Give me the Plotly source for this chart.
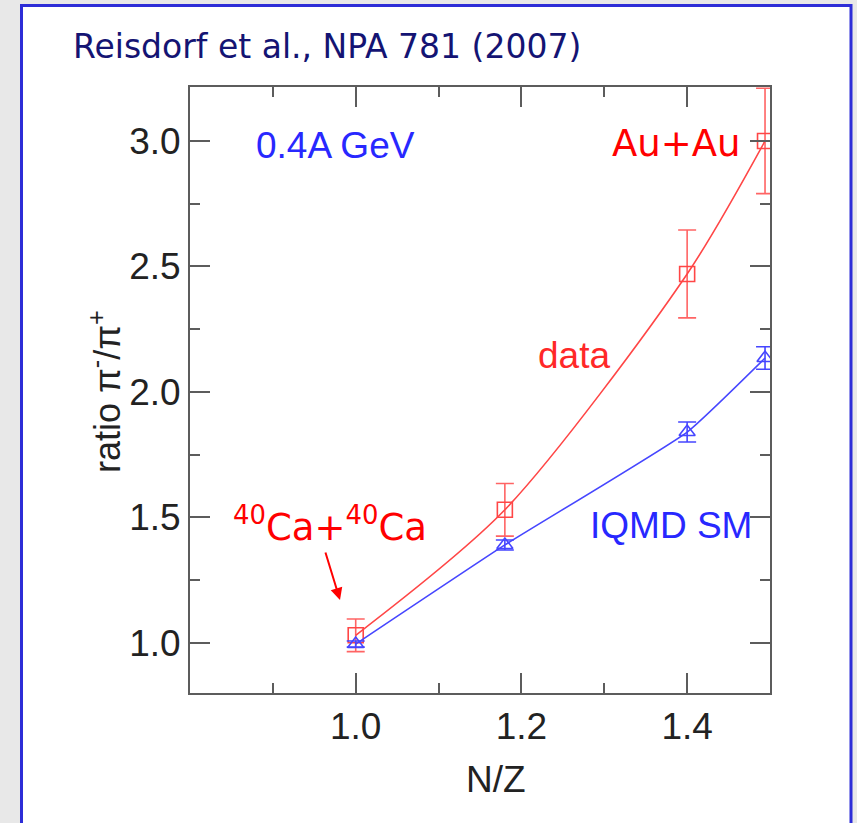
import plotly.graph_objects as go

# N/Z of the colliding systems: 40Ca+40Ca, 96Ru+96Ru, 96Zr+96Zr, Au+Au
nz = [1.0, 1.18, 1.40, 1.494]

# measured pi-/pi+ ratio (FOPI) with errors
ratio_data = [1.03, 1.53, 2.47, 3.00]
ratio_data_err = [0.065, 0.105, 0.175, 0.21]

# IQMD (soft EoS, momentum dependent) ratio with errors
ratio_iqmd = [0.995, 1.39, 1.84, 2.135]
ratio_iqmd_err = [0.012, 0.02, 0.04, 0.045]

x_ticks = [1.0, 1.2, 1.4]
x_tick_text = ["1.0", "1.2", "1.4"]
x_minor = [0.9, 1.1, 1.3, 1.5]
y_ticks = [1.0, 1.5, 2.0, 2.5, 3.0]
y_tick_text = ["1.0", "1.5", "2.0", "2.5", "3.0"]
y_minor = [1.25, 1.75, 2.25, 2.75]

RED = "rgb(255,70,70)"
BLUE = "rgb(70,70,255)"
AXIS = "#5c5c5c"
PLOT_FONT = "Liberation Sans, Arial, sans-serif"
SLIDE_FONT = "DejaVu Sans, Verdana, sans-serif"

# plot-area edges in pixels, used to place page-level decorations
L, R, T, B = 190, 770, 87, 693


def px(x):
    return (x - L) / (R - L)


def py(y):
    return (B - y) / (B - T)


fig = go.Figure()

fig.add_trace(go.Scatter(
    x=nz, y=ratio_data, mode="lines+markers", name="data",
    line=dict(color=RED, width=1.6, shape="spline", smoothing=0.8),
    marker=dict(symbol="square-open", size=15, color=RED, line=dict(width=1.6, color=RED)),
    error_y=dict(type="data", array=ratio_data_err, visible=True,
                 color="rgb(255,100,100)", thickness=1.6, width=9),
))

fig.add_trace(go.Scatter(
    x=nz, y=ratio_iqmd, mode="lines+markers", name="IQMD SM",
    line=dict(color=BLUE, width=1.6, shape="spline", smoothing=0.4),
    marker=dict(symbol="triangle-up-open", size=14, color=BLUE, line=dict(width=1.6, color=BLUE)),
    error_y=dict(type="data", array=ratio_iqmd_err, visible=True,
                 color=BLUE, thickness=1.6, width=9),
))

axis_common = dict(
    ticks="inside", ticklen=20, tickwidth=1.5, tickcolor=AXIS,
    showline=True, linecolor=AXIS, linewidth=2, mirror="ticks",
    showgrid=False, zeroline=False,
    tickfont=dict(family=PLOT_FONT, size=37, color="#222222"),
)

fig.update_layout(
    width=857, height=823,
    margin=dict(l=L, r=857 - R, t=T, b=823 - B, pad=0),
    paper_bgcolor="#e8e8e8",
    plot_bgcolor="white",
    showlegend=False,
    xaxis=dict(range=[0.8, 1.5], tickmode="array", tickvals=x_ticks, ticktext=x_tick_text,
               minor=dict(tickmode="array", tickvals=x_minor, ticks="inside", ticklen=10,
                          tickwidth=1.5, tickcolor=AXIS, showgrid=False),
               **axis_common),
    yaxis=dict(range=[0.8, 3.215], tickmode="array", tickvals=y_ticks, ticktext=y_tick_text,
               minor=dict(tickmode="array", tickvals=y_minor, ticks="inside", ticklen=10,
                          tickwidth=1.5, tickcolor=AXIS, showgrid=False),
               **axis_common),
)

# slide panel: white box with blue frame
fig.add_shape(type="rect", xref="paper", yref="paper", layer="below",
              x0=px(21.5), x1=px(851), y0=py(860), y1=py(5.5),
              fillcolor="white", line=dict(color="rgb(45,45,215)", width=3))

annotations = [
    dict(text="Reisdorf et al., NPA 781 (2007)", x=px(71), y=py(46), xanchor="left",
         font=dict(family=SLIDE_FONT, size=33, color="rgb(20,20,115)")),
    dict(text="0.4A GeV", x=px(254), y=py(145), xanchor="left",
         font=dict(family=PLOT_FONT, size=37, color="rgb(40,40,255)")),
    dict(text="Au+Au", x=px(743), y=py(143), xanchor="right",
         font=dict(family=SLIDE_FONT, size=37, color="#ff0000")),
    dict(text="data", x=px(536), y=py(355), xanchor="left",
         font=dict(family=PLOT_FONT, size=37, color="rgb(255,40,40)")),
    dict(text="IQMD SM", x=px(588), y=py(525), xanchor="left",
         font=dict(family=PLOT_FONT, size=37, color="rgb(40,40,255)")),
    dict(text="<sup>40</sup>Ca+<sup>40</sup>Ca", x=px(231), y=py(524), xanchor="left",
         font=dict(family=SLIDE_FONT, size=37, color="#ff0000")),
    dict(text="ratio π<sup>-</sup>/π<sup>+</sup>", x=px(80), y=py(392), textangle=-90,
         font=dict(family=PLOT_FONT, size=36, color="#222222")),
    dict(text="N/Z", x=px(496), y=py(779),
         font=dict(family=PLOT_FONT, size=37, color="#222222")),
]
for a in annotations:
    fig.add_annotation(xref="paper", yref="paper", showarrow=False, yanchor="middle", **a)

# arrow pointing at the 40Ca+40Ca point
fig.add_annotation(xref="paper", yref="paper", x=px(340), y=py(600), ax=-15, ay=-49,
                   text="", showarrow=True, arrowhead=2, arrowsize=1.2, arrowwidth=2,
                   arrowcolor="#ff0000")

fig.write_html("out.html")
